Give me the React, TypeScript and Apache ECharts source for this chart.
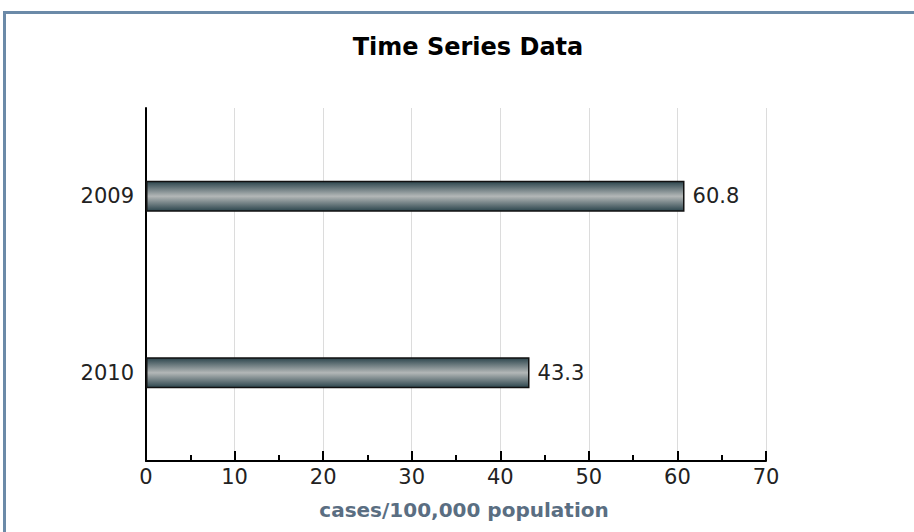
import React, { useEffect, useRef } from "react";
import * as echarts from "echarts";

const categories = ["2009", "2010"];
const values = [60.8, 43.3];
const xTicks = [0, 10, 20, 30, 40, 50, 60, 70];
const titleText = "Time Series Data";
const axisName = "cases/100,000 population";

export default function App() {
  const ref = useRef<HTMLDivElement>(null);
  useEffect(() => {
    if (!ref.current) return;
    const chart = echarts.init(ref.current, null, { renderer: "svg" });
    const font = "'DejaVu Sans', Verdana, sans-serif";
    chart.setOption({
      animation: false,
      backgroundColor: "#ffffff",
      title: {
        text: titleText,
        left: 463,
        textAlign: "center",
        top: 30,
        textStyle: { fontFamily: font, fontSize: 24, fontWeight: "bold", color: "#000" },
      },
      graphic: [
        {
          type: "rect",
          shape: { x: 4.5, y: 12.5, width: 1000, height: 700 },
          style: { fill: "none", stroke: "#6b8aa8", lineWidth: 3 },
          silent: true,
        },
      ],
      grid: { left: 146, right: 148, top: 108, bottom: 71, containLabel: false },
      xAxis: {
        type: "value",
        min: xTicks[0],
        max: xTicks[xTicks.length - 1],
        interval: 10,
        name: axisName,
        nameLocation: "middle",
        nameGap: 39,
        nameTextStyle: {
          fontFamily: font,
          fontSize: 20,
          fontWeight: "bold",
          color: "#5a6e82",
          padding: [0, 0, 0, 16],
        },
        axisLine: { show: true, onZero: false, lineStyle: { color: "#000", width: 2 } },
        axisTick: { show: true, inside: true, length: 10, lineStyle: { color: "#000", width: 2 } },
        minorTick: { show: true, splitNumber: 2, length: 6, lineStyle: { color: "#000", width: 2 } },
        splitLine: { show: true, lineStyle: { color: "#dcdcdc", width: 1 } },
        axisLabel: { fontFamily: font, fontSize: 21, color: "#222", margin: 5 },
      },
      yAxis: {
        type: "category",
        data: categories,
        inverse: true,
        axisLine: { show: true, lineStyle: { color: "#000", width: 2 } },
        axisTick: { show: false },
        axisLabel: { fontFamily: font, fontSize: 21, color: "#222", margin: 12 },
        splitLine: { show: false },
      },
      series: [
        {
          type: "bar",
          data: values,
          barWidth: 31,
          itemStyle: {
            color: new echarts.graphic.LinearGradient(0, 0, 0, 1, [
              { offset: 0, color: "#2c454d" },
              { offset: 0.5, color: "#b3b7b7" },
              { offset: 1, color: "#2c454d" },
            ]),
            borderColor: "#111",
            borderWidth: 1.5,
          },
          label: {
            show: true,
            position: "right",
            distance: 8,
            fontFamily: font,
            fontSize: 21,
            color: "#222",
          },
        },
      ],
    });
    return () => chart.dispose();
  }, []);
  return (
    <div
      ref={ref}
      style={{ position: "absolute", left: 0, top: 0, width: 914, height: 532 }}
    />
  );
}
